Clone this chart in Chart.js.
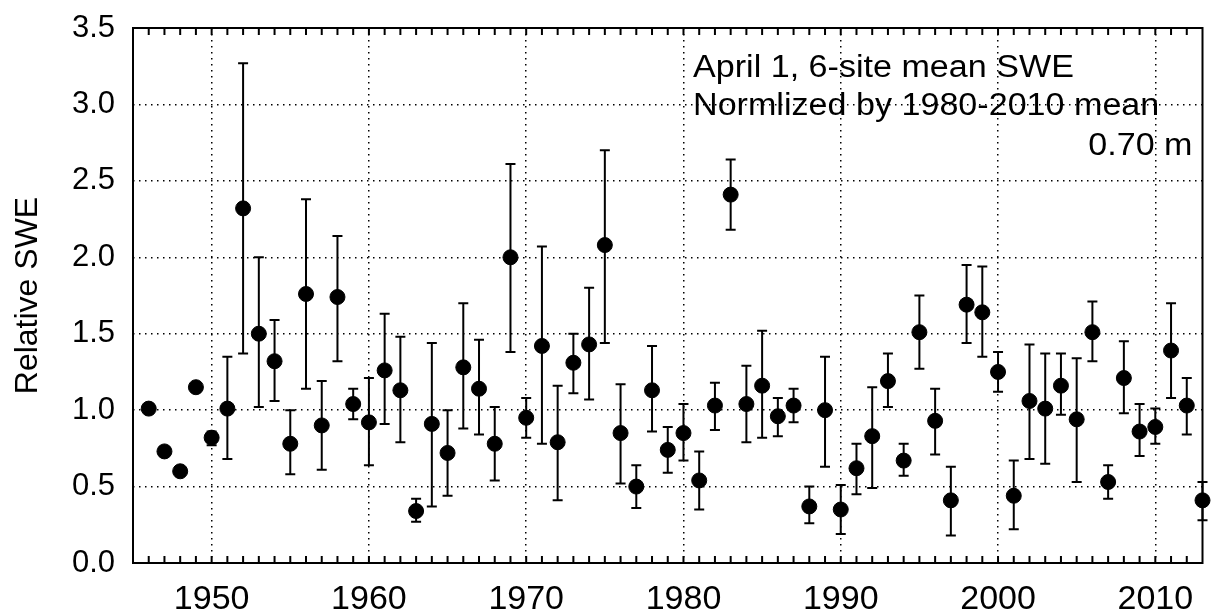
<!DOCTYPE html>
<html>
<head>
<meta charset="utf-8">
<script src="https://cdn.jsdelivr.net/npm/chart.js@4.4.0/dist/chart.umd.min.js"></script>
<style>
  html, body { margin: 0; padding: 0; background: #fff; }
  #wrap { width: 1211px; height: 616px; }
</style>
</head>
<body>
<div id="wrap"><canvas id="sweChart" width="1211" height="616"></canvas></div>
<script>
// April 1 relative SWE, 6-site mean, with error bars
const years = [1946, 1947, 1948, 1949, 1950, 1951, 1952, 1953, 1954, 1955,
  1956, 1957, 1958, 1959, 1960, 1961, 1962, 1963, 1964, 1965,
  1966, 1967, 1968, 1969, 1970, 1971, 1972, 1973, 1974, 1975,
  1976, 1977, 1978, 1979, 1980, 1981, 1982, 1983, 1984, 1985,
  1986, 1987, 1988, 1989, 1990, 1991, 1992, 1993, 1994, 1995,
  1996, 1997, 1998, 1999, 2000, 2001, 2002, 2003, 2004, 2005,
  2006, 2007, 2008, 2009, 2010, 2011, 2012, 2013];

const sweMean = [1.01, 0.73, 0.60, 1.15, 0.82, 1.01, 2.32, 1.50, 1.32, 0.78,
  1.76, 0.90, 1.74, 1.04, 0.92, 1.26, 1.13, 0.34, 0.91, 0.72,
  1.28, 1.14, 0.78, 2.00, 0.95, 1.42, 0.79, 1.31, 1.43, 2.08,
  0.85, 0.50, 1.13, 0.74, 0.85, 0.54, 1.03, 2.41, 1.04, 1.16,
  0.96, 1.03, 0.37, 1.00, 0.35, 0.62, 0.83, 1.19, 0.67, 1.51,
  0.93, 0.41, 1.69, 1.64, 1.25, 0.44, 1.06, 1.01, 1.16, 0.94,
  1.51, 0.53, 1.21, 0.86, 0.89, 1.39, 1.03, 0.41];

const errHigh = [null, null, null, null, 0.86, 1.35, 3.27, 2.00, 1.59, 1.00,
  2.38, 1.19, 2.14, 1.14, 1.21, 1.63, 1.48, 0.42, 1.44, 1.00,
  1.70, 1.46, 1.02, 2.61, 1.08, 2.07, 1.16, 1.50, 1.80, 2.70,
  1.17, 0.64, 1.42, 0.89, 1.04, 0.73, 1.18, 2.64, 1.29, 1.52,
  1.08, 1.14, 0.50, 1.35, 0.51, 0.78, 1.15, 1.37, 0.78, 1.75,
  1.14, 0.63, 1.95, 1.94, 1.38, 0.67, 1.43, 1.37, 1.37, 1.34,
  1.71, 0.64, 1.45, 1.04, 1.01, 1.70, 1.21, 0.53];

const errLow = [null, null, null, null, 0.77, 0.68, 1.37, 1.02, 1.06, 0.58,
  1.14, 0.61, 1.32, 0.94, 0.64, 0.91, 0.79, 0.27, 0.37, 0.44,
  0.88, 0.84, 0.54, 1.38, 0.82, 0.78, 0.41, 1.11, 1.07, 1.44,
  0.52, 0.36, 0.86, 0.59, 0.67, 0.35, 0.87, 2.18, 0.79, 0.82,
  0.83, 0.92, 0.26, 0.63, 0.19, 0.45, 0.49, 1.02, 0.57, 1.27,
  0.71, 0.18, 1.44, 1.35, 1.12, 0.22, 0.68, 0.65, 0.97, 0.53,
  1.32, 0.42, 0.98, 0.70, 0.78, 1.08, 0.84, 0.28];

const xLabelYears = [1950, 1960, 1970, 1980, 1990, 2000, 2010];
const yTickValues = [0, 0.5, 1.0, 1.5, 2.0, 2.5, 3.0, 3.5];
const noteLines = ["April 1, 6-site mean SWE", "Normlized by 1980-2010 mean", "0.70 m"];

const FONT = "'Liberation Sans', Arial, sans-serif";

// error bars, frame, minor ticks and the note
const extras = {
  id: "extras",
  beforeDatasetsDraw(chart) {
    const { ctx, scales: { x, y } } = chart;
    ctx.save();
    ctx.strokeStyle = "#000";
    ctx.lineWidth = 2;
    years.forEach((yr, i) => {
      if (errLow[i] == null) return;
      const px = x.getPixelForValue(yr);
      const top = y.getPixelForValue(errHigh[i]);
      const bot = y.getPixelForValue(errLow[i]);
      ctx.beginPath();
      ctx.moveTo(px, top);
      ctx.lineTo(px, bot);
      ctx.moveTo(px - 5, top);
      ctx.lineTo(px + 5, top);
      ctx.moveTo(px - 5, bot);
      ctx.lineTo(px + 5, bot);
      ctx.stroke();
    });
    ctx.restore();
  },
  afterDraw(chart) {
    const { ctx, chartArea: a, scales: { x } } = chart;
    ctx.save();
    ctx.strokeStyle = "#000";
    ctx.lineWidth = 2;
    ctx.strokeRect(a.left, a.top, a.right - a.left, a.bottom - a.top);

    // yearly ticks pointing inward on top and bottom
    ctx.beginPath();
    for (let yr = 1946; yr <= 2012; yr++) {
      const px = x.getPixelForValue(yr);
      ctx.moveTo(px, a.bottom);
      ctx.lineTo(px, a.bottom - 7);
      ctx.moveTo(px, a.top);
      ctx.lineTo(px, a.top + 7);
    }
    ctx.stroke();

    // the note is a little wider than plain Arial in the original
    ctx.fillStyle = "#000";
    ctx.font = "31px " + FONT;
    ctx.textBaseline = "alphabetic";
    ctx.translate(a.left + 560, a.top);
    ctx.scale(1.1, 1);
    ctx.textAlign = "left";
    ctx.fillText(noteLines[0], 0, 49);
    ctx.fillText(noteLines[1], 0, 87);
    ctx.textAlign = "right";
    ctx.fillText(noteLines[2], (a.right - 10 - a.left - 560) / 1.1, 127);
    ctx.restore();
  },
};

const ctx = document.getElementById("sweChart").getContext("2d");

new Chart(ctx, {
  type: "scatter",
  data: {
    datasets: [
      {
        label: "Relative SWE",
        data: years.map((yr, i) => ({ x: yr, y: sweMean[i] })),
        backgroundColor: "#000",
        borderColor: "#000",
        pointRadius: 7.5,
        pointHoverRadius: 7.5,
        clip: false,
      },
    ],
  },
  options: {
    responsive: false,
    animation: false,
    devicePixelRatio: 1,
    layout: { padding: { top: 28, right: 8, left: 0, bottom: 0 } },
    plugins: {
      legend: { display: false },
      tooltip: { enabled: false },
    },
    scales: {
      x: {
        type: "linear",
        min: 1945,
        max: 2013,
        afterBuildTicks: (s) => {
          s.ticks = xLabelYears.map((v) => ({ value: v }));
        },
        afterFit: (s) => {
          s.height = 53;
        },
        ticks: {
          color: "#000",
          font: { family: FONT, size: 34 },
          padding: 16,
          maxRotation: 0,
          callback: (v) => String(v),
        },
        grid: {
          color: "#000",
          lineWidth: 1.5,
          drawTicks: false,
        },
        border: { display: false, dash: [1.5, 4.5] },
      },
      y: {
        min: 0,
        max: 3.5,
        afterBuildTicks: (s) => {
          s.ticks = yTickValues.map((v) => ({ value: v }));
        },
        afterFit: (s) => {
          s.width = 133;
        },
        title: {
          display: true,
          text: "Relative SWE",
          color: "#000",
          font: { family: FONT, size: 32 },
          padding: { top: 9, bottom: 0 },
        },
        ticks: {
          color: "#000",
          font: { family: FONT, size: 31, lineHeight: 0.5 },
          padding: 18,
          callback: (v) => v.toFixed(1),
        },
        grid: {
          color: "#000",
          lineWidth: 1.5,
          drawTicks: false,
        },
        border: { display: false, dash: [1.5, 4.5] },
      },
    },
  },
  plugins: [extras],
});
</script>
</body>
</html>
